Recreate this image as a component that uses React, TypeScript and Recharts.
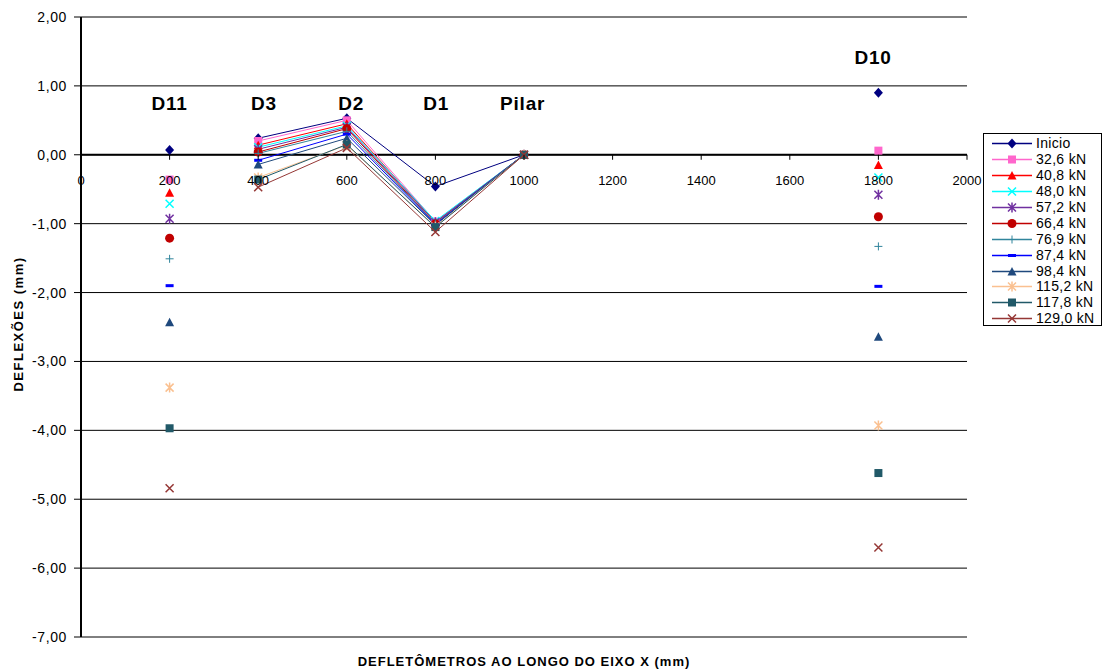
// Deflection profile along the X axis — Recharts LineChart, one line per load step.
// D11 (200) and D10 (1800) are isolated readings, so null rows break the lines there.

import React from 'react';
import {
  CartesianGrid,
  Label,
  Line,
  LineChart,
  ReferenceDot,
  ReferenceLine,
  XAxis,
  YAxis,
} from 'recharts';

const FONT = 'Arial, "Liberation Sans", sans-serif';

// stations: D11, D3, D2, D1, Pilar, D10
const stations = [200, 400, 600, 800, 1000, 1800];
// x values of the empty rows that cut the line before D3 and after Pilar
const gapAfter = [
  { index: 0, x: 300 },
  { index: 4, x: 1400 },
];

const loadNames = [
  'Inicio',
  '32,6 kN',
  '40,8 kN',
  '48,0 kN',
  '57,2 kN',
  '66,4 kN',
  '76,9 kN',
  '87,4 kN',
  '98,4 kN',
  '115,2 kN',
  '117,8 kN',
  '129,0 kN',
];

const inicio = [0.07, 0.24, 0.53, -0.46, 0, 0.9];
const kn326 = [-0.36, 0.2, 0.5, -0.97, 0, 0.06];
const kn408 = [-0.55, 0.14, 0.45, -0.98, 0, -0.15];
const kn480 = [-0.71, 0.11, 0.42, -0.96, 0, -0.33];
const kn572 = [-0.93, 0.08, 0.4, -0.98, 0, -0.58];
const kn664 = [-1.21, 0.04, 0.38, -1.0, 0, -0.9];
const kn769 = [-1.51, 0.02, 0.34, -1.0, 0, -1.33];
const kn874 = [-1.9, -0.08, 0.3, -1.01, 0, -1.91];
const kn984 = [-2.43, -0.14, 0.24, -1.02, 0, -2.64];
const kn1152 = [-3.38, -0.33, 0.14, -1.04, 0, -3.93];
const kn1178 = [-3.97, -0.36, 0.15, -1.05, 0, -4.62];
const kn1290 = [-4.84, -0.47, 0.1, -1.12, 0, -5.7];

const seriesValues = [
  inicio, kn326, kn408, kn480, kn572, kn664,
  kn769, kn874, kn984, kn1152, kn1178, kn1290,
];

const xTicks = [0, 200, 400, 600, 800, 1000, 1200, 1400, 1600, 1800, 2000];
const yTicks = [-7, -6, -5, -4, -3, -2, -1, 0, 1, 2];

const annotations = [
  { x: 200, y: 0.75, text: 'D11' },
  { x: 413, y: 0.75, text: 'D3' },
  { x: 610, y: 0.75, text: 'D2' },
  { x: 802, y: 0.75, text: 'D1' },
  { x: 997, y: 0.75, text: 'Pilar' },
  { x: 1788, y: 1.41, text: 'D10' },
];

// styling, one entry per series
const colors = [
  '#000080', '#FF66CC', '#FF0000', '#00FFFF', '#7030A0', '#C00000',
  '#31859C', '#0000FF', '#1F497D', '#FAC090', '#215968', '#953735',
];
const shapes = [
  'diamond', 'square', 'triangle', 'x', 'star', 'circle',
  'plus', 'dash', 'triangle', 'star', 'square', 'x',
];

// chart geometry
const W = 1103;
const H = 672;
const TOP = 17;
const X_AXIS_H = 35;
const Y_AXIS_W = 81;
const RIGHT = 136;
const Y_MIN = -7;
const Y_MAX = 2;
const PLOT_H = H - TOP - X_AXIS_H;
const ZERO_Y = TOP + (PLOT_H * (Y_MAX - 0)) / (Y_MAX - Y_MIN);

type Row = { x: number; [k: string]: number | null };

const rows: Row[] = [];
stations.forEach((x, i) => {
  const row: Row = { x };
  seriesValues.forEach((vals, s) => {
    row[`s${s}`] = vals[i];
  });
  rows.push(row);
  const gap = gapAfter.find((g) => g.index === i);
  if (gap) {
    const empty: Row = { x: gap.x };
    seriesValues.forEach((_, s) => {
      empty[`s${s}`] = null;
    });
    rows.push(empty);
  }
});

function marker(shape: string, cx: number, cy: number, color: string, key?: string) {
  const r = 4.5;
  switch (shape) {
    case 'diamond':
      return (
        <polygon
          key={key}
          points={`${cx},${cy - r - 0.5} ${cx + r},${cy} ${cx},${cy + r + 0.5} ${cx - r},${cy}`}
          fill={color}
        />
      );
    case 'square':
      return <rect key={key} x={cx - 4} y={cy - 4} width={8} height={8} fill={color} />;
    case 'triangle':
      return (
        <polygon
          key={key}
          points={`${cx},${cy - r} ${cx + r},${cy + 4} ${cx - r},${cy + 4}`}
          fill={color}
        />
      );
    case 'x':
      return (
        <path
          key={key}
          d={`M${cx - 4},${cy - 4}L${cx + 4},${cy + 4}M${cx + 4},${cy - 4}L${cx - 4},${cy + 4}`}
          stroke={color}
          strokeWidth={1.5}
          fill="none"
        />
      );
    case 'star':
      return (
        <path
          key={key}
          d={`M${cx - 4},${cy - 4}L${cx + 4},${cy + 4}M${cx + 4},${cy - 4}L${cx - 4},${cy + 4}M${cx},${cy - 5}L${cx},${cy + 5}`}
          stroke={color}
          strokeWidth={1.5}
          fill="none"
        />
      );
    case 'circle':
      return <circle key={key} cx={cx} cy={cy} r={r} fill={color} />;
    case 'plus':
      return (
        <path
          key={key}
          d={`M${cx - 4},${cy}L${cx + 4},${cy}M${cx},${cy - 4}L${cx},${cy + 4}`}
          stroke={color}
          strokeWidth={1}
          fill="none"
        />
      );
    case 'dash':
      return <rect key={key} x={cx - 4} y={cy - 1.5} width={8} height={3} fill={color} />;
    default:
      return <g key={key} />;
  }
}

function XTick(props: any) {
  const { x, payload } = props;
  return (
    <g>
      <line x1={x} x2={x} y1={ZERO_Y} y2={ZERO_Y + 5} stroke="#000" />
      <text
        x={x}
        y={ZERO_Y + 30}
        textAnchor="middle"
        fontSize={13}
        fontFamily={FONT}
        fill="#000"
      >
        {payload.value}
      </text>
    </g>
  );
}

function Legend() {
  return (
    <div
      style={{
        position: 'absolute',
        left: 983,
        top: 133,
        width: 119,
        height: 193,
        border: '1px solid #000',
        background: '#fff',
        paddingTop: 2,
        boxSizing: 'border-box',
        fontFamily: FONT,
        fontSize: 14,
        letterSpacing: 0.3,
        color: '#000',
      }}
    >
      {loadNames.map((name, i) => (
        <div key={name} style={{ display: 'flex', alignItems: 'center', height: 15.9 }}>
          <svg width={52} height={15} style={{ flex: 'none' }}>
            <line x1={8} x2={48} y1={7.5} y2={7.5} stroke={colors[i]} strokeWidth={1.5} />
            {marker(shapes[i], 28, 7.5, colors[i])}
          </svg>
          <span style={{ lineHeight: '15px' }}>{name}</span>
        </div>
      ))}
    </div>
  );
}

export default function App() {
  return (
    <div style={{ position: 'absolute', left: 0, top: 0, width: W, height: H, background: '#fff' }}>
      <LineChart
        width={W}
        height={H}
        data={rows}
        margin={{ top: TOP, right: RIGHT, bottom: 0, left: 0 }}
      >
        <CartesianGrid vertical={false} stroke="#000" strokeWidth={1} />
        <XAxis
          dataKey="x"
          type="number"
          domain={[0, 2000]}
          ticks={xTicks}
          interval={0}
          axisLine={false}
          tickLine={false}
          tick={<XTick />}
          height={X_AXIS_H}
        >
          <Label
            content={(p: any) => {
              const vb = p.viewBox;
              return (
                <text
                  x={vb.x + vb.width / 2}
                  y={vb.y + 29}
                  textAnchor="middle"
                  fontSize={13}
                  letterSpacing={1}
                  fontWeight="bold"
                  fontFamily={FONT}
                  fill="#000"
                >
                  DEFLETÔMETROS AO LONGO DO EIXO X (mm)
                </text>
              );
            }}
          />
        </XAxis>
        <YAxis
          type="number"
          domain={[Y_MIN, Y_MAX]}
          ticks={yTicks}
          interval={0}
          width={Y_AXIS_W}
          axisLine={{ stroke: '#000', strokeWidth: 2 }}
          tickLine={{ stroke: '#000' }}
          tickSize={7}
          tickMargin={7}
          tick={{ fill: '#000', fontSize: 14, fontFamily: FONT, letterSpacing: 0.6 }}
          tickFormatter={(v: number) => v.toFixed(2).replace('.', ',')}
        >
          <Label
            content={(p: any) => {
              const vb = p.viewBox;
              const cy = vb.y + vb.height / 2 - 3;
              return (
                <text
                  x={18}
                  y={cy}
                  transform={`rotate(-90 18 ${cy})`}
                  textAnchor="middle"
                  dominantBaseline="central"
                  fontSize={13}
                  letterSpacing={1.5}
                  fontWeight="bold"
                  fontFamily={FONT}
                  fill="#000"
                >
                  DEFLEXÕES (mm)
                </text>
              );
            }}
          />
        </YAxis>
        <ReferenceLine y={0} stroke="#000" strokeWidth={2} />
        {seriesValues.map((_, s) => (
          <Line
            key={s}
            dataKey={`s${s}`}
            name={loadNames[s]}
            stroke={colors[s]}
            strokeWidth={1}
            isAnimationActive={false}
            activeDot={false}
            dot={(p: any) => {
              const k = `m${s}-${p.index}`;
              if (p.value == null || p.cx == null || p.cy == null) return <g key={k} />;
              return marker(shapes[s], p.cx, p.cy, colors[s], k);
            }}
          />
        ))}
        {annotations.map((a) => (
          <ReferenceDot
            key={a.text}
            x={a.x}
            y={a.y}
            r={0}
            fill="none"
            stroke="none"
            label={{
              value: a.text,
              position: 'center',
              fontSize: 19,
              letterSpacing: 0.8,
              fontWeight: 'bold',
              fontFamily: FONT,
              fill: '#000',
            }}
          />
        ))}
      </LineChart>
      <Legend />
    </div>
  );
}
